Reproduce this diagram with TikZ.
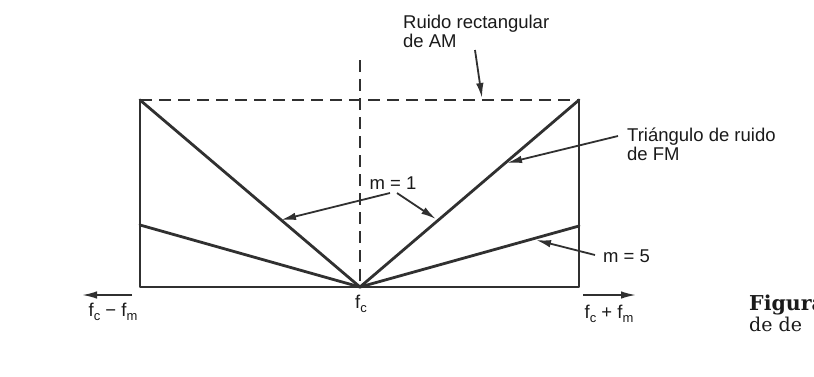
\documentclass[tikz,border=0pt]{standalone}
\usepackage{fontspec}
\setmainfont{Liberation Sans}
\newfontfamily\capfont{DejaVu Serif}
\usetikzlibrary{arrows.meta}
\definecolor{ink}{HTML}{303030}
\definecolor{txt}{HTML}{1A1A1A}
\newcommand{\sbx}[1]{\raisebox{-4pt}{\fontsize{13}{13}\selectfont #1}}
\begin{document}
\begin{tikzpicture}[x=1pt,y=-1pt,
  frame/.style={line width=2.8pt, draw=ink, line cap=round, line join=round},
  dashline/.style={line width=2.2pt, draw=ink, dash pattern=on 12pt off 7pt},
  pointer/.style={line width=1.8pt, draw=ink, -{Latex[length=15pt,width=7.5pt]}},
  lbl/.style={font=\fontsize{18.5}{19}\selectfont, text=txt, inner sep=0pt, align=left},
  captext/.style={font=\capfont\fontsize{19}{20}\selectfont, text=txt, inner sep=0pt}
]
\useasboundingbox (0,0) rectangle (814,376);
\fill[white] (0,0) rectangle (814,376);

% corner coordinates
\coordinate (tl) at (140,100);
\coordinate (tr) at (579,100);
\coordinate (bl) at (140,287);
\coordinate (br) at (579,287);
\coordinate (fc) at (360,287);
\coordinate (ctop) at (360,60);
\coordinate (l5) at (140,225);
\coordinate (r5) at (579,226);

% AM rectangle (dashed top) and centre line
\draw[dashline] (tl) -- (tr);
\draw[dashline] (ctop) -- (fc);
\draw[frame] (tl) -- (bl) -- (br) -- (tr);
% FM triangle m = 1
\draw[frame] (tl) -- (fc) -- (tr);
% m = 5
\draw[frame] (l5) -- (fc) -- (r5);

% labels (base anchor = baseline of last line)
\node[lbl, anchor=base west] (am) at (403,47) {Ruido rectangular\\de AM};
\node[lbl, anchor=base west] (fm) at (627,160) {Triángulo de ruido\\de FM};
\node[lbl, anchor=base] (m1) at (393,189) {m = 1};
\node[lbl, anchor=base west] (m5) at (603,262) {m = 5};
\node[lbl, anchor=base] (fcl) at (361,308) {f\sbx{c}};
\node[lbl, anchor=base] (lo) at (113,316) {f\sbx{c} − f\sbx{m}};
\node[lbl, anchor=base] (hi) at (609,318) {f\sbx{c} + f\sbx{m}};

% pointer coordinates
\coordinate (amS) at (475,50);  \coordinate (amE) at (482,98);
\coordinate (fmS) at (618,136); \coordinate (fmE) at (507,163);
\coordinate (m1a) at (390,193); \coordinate (m1aE) at (281,220);
\coordinate (m1b) at (397,193); \coordinate (m1bE) at (436,219);
\coordinate (m5S) at (595,255); \coordinate (m5E) at (536,240);
\coordinate (loS) at (132,295); \coordinate (loE) at (82,295);
\coordinate (hiS) at (583,295); \coordinate (hiE) at (636,295);

\draw[pointer] (amS) -- (amE);
\draw[pointer] (fmS) -- (fmE);
\draw[pointer] (m1a) -- (m1aE);
\draw[pointer] (m1b) -- (m1bE);
\draw[pointer] (m5S) -- (m5E);
\draw[pointer] (loS) -- (loE);
\draw[pointer] (hiS) -- (hiE);

% caption fragment at the right edge
\node[captext, anchor=base west, font=\capfont\bfseries\fontsize{20.5}{21}\selectfont] (fig) at (749,310) {Figura};
\node[captext, anchor=base west] (dede) at (749,331) {de de};
\end{tikzpicture}
\end{document}
